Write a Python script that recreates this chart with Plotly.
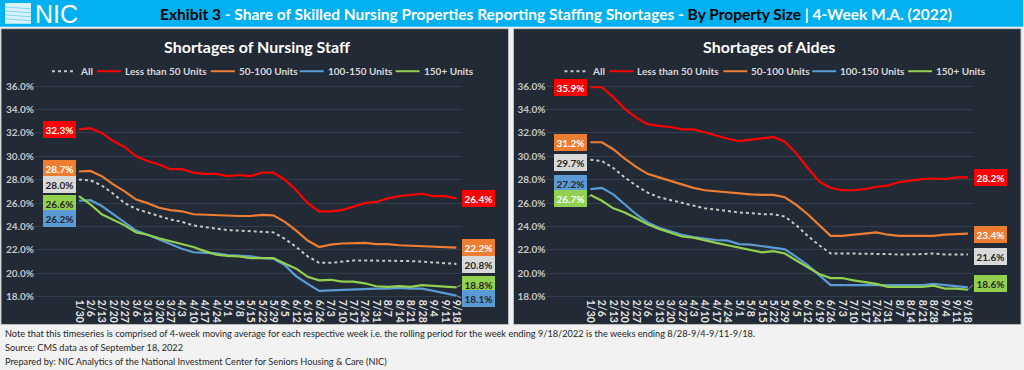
import plotly.graph_objects as go

W, H = 1024, 370
FONT = "Lato, sans-serif"


def px(x):
    return x / W


def py(y):
    return 1 - y / H


# ---------------- data ----------------
weeks = ["1/30", "2/6", "2/13", "2/20", "2/27", "3/6", "3/13", "3/20", "3/27", "4/3",
         "4/10", "4/17", "4/24", "5/1", "5/8", "5/15", "5/22", "5/29", "6/5", "6/12",
         "6/19", "6/26", "7/3", "7/10", "7/17", "7/24", "7/31", "8/7", "8/14", "8/21",
         "8/28", "9/4", "9/11", "9/18"]

series_names = ["All", "Less than 50 Units", "50-100 Units", "100-150 Units", "150+ Units"]

# Shortages of Nursing Staff (%)
nurse_all = [28.0, 27.95, 27.5, 26.8, 26.0, 25.5, 25.2, 24.9, 24.6, 24.4, 24.1, 23.95, 23.8,
             23.7, 23.65, 23.6, 23.55, 23.5, 22.95, 22.25, 21.45, 20.9, 20.9, 21.0, 21.1,
             21.1, 21.1, 21.05, 21.05, 21.05, 21.0, 20.95, 20.9, 20.8]
nurse_lt50 = [32.3, 32.4, 32.0, 31.3, 30.8, 30.0, 29.6, 29.3, 28.9, 28.9, 28.6, 28.5, 28.5,
              28.3, 28.4, 28.3, 28.6, 28.6, 28.0, 27.1, 26.0, 25.3, 25.3, 25.4, 25.7, 26.0,
              26.1, 26.4, 26.6, 26.7, 26.8, 26.6, 26.6, 26.4]
nurse_50_100 = [28.7, 28.75, 28.3, 27.6, 27.0, 26.3, 26.0, 25.6, 25.4, 25.3, 25.05, 25.0,
                24.95, 24.95, 24.9, 24.9, 25.0, 24.95, 24.4, 23.65, 22.8, 22.25, 22.45,
                22.55, 22.6, 22.6, 22.5, 22.5, 22.4, 22.35, 22.3, 22.25, 22.25, 22.2]
nurse_100_150 = [26.2, 26.25, 25.75, 25.05, 24.35, 23.65, 23.3, 22.9, 22.5, 22.1, 21.8, 21.75,
                 21.7, 21.55, 21.5, 21.45, 21.3, 21.25, 20.7, 19.75, 19.1, 18.5, 18.55, 18.6,
                 18.65, 18.7, 18.7, 18.7, 18.75, 18.7, 18.7, 18.5, 18.3, 18.1]
nurse_150 = [26.6, 25.9, 25.05, 24.6, 24.1, 23.5, 23.3, 23.0, 22.75, 22.5, 22.25, 21.9, 21.6,
             21.5, 21.45, 21.3, 21.3, 21.3, 20.85, 20.4, 19.7, 19.4, 19.45, 19.3, 19.3,
             19.15, 18.9, 18.85, 18.9, 18.85, 19.0, 18.95, 18.9, 18.8]

# Shortages of Aides (%)
aide_all = [29.7, 29.6, 29.0, 28.2, 27.5, 26.9, 26.5, 26.25, 26.0, 25.8, 25.55, 25.45, 25.3,
            25.2, 25.15, 25.05, 25.05, 24.85, 24.1, 23.2, 22.4, 21.7, 21.7, 21.7, 21.7, 21.7,
            21.65, 21.6, 21.6, 21.65, 21.7, 21.6, 21.6, 21.6]
aide_lt50 = [35.9, 35.9, 35.05, 34.05, 33.3, 32.75, 32.6, 32.5, 32.3, 32.3, 32.05, 31.75,
             31.5, 31.3, 31.4, 31.55, 31.65, 31.25, 30.25, 29.0, 27.85, 27.3, 27.1, 27.1,
             27.2, 27.4, 27.5, 27.8, 27.95, 28.05, 28.1, 28.05, 28.2, 28.2]
aide_50_100 = [31.2, 31.2, 30.6, 29.8, 29.1, 28.5, 28.2, 27.9, 27.55, 27.3, 27.1, 27.0, 26.9,
               26.85, 26.75, 26.7, 26.7, 26.5, 25.85, 25.05, 24.1, 23.2, 23.2, 23.3, 23.35,
               23.5, 23.3, 23.2, 23.2, 23.2, 23.2, 23.3, 23.35, 23.4]
aide_100_150 = [27.2, 27.3, 26.75, 25.9, 25.05, 24.35, 23.9, 23.6, 23.3, 23.1, 22.95, 22.85,
                22.8, 22.5, 22.45, 22.3, 22.2, 22.05, 21.4, 20.7, 19.85, 19.0, 19.0, 19.0,
                19.0, 19.0, 19.0, 18.95, 19.0, 19.0, 19.1, 19.0, 18.9, 18.8]
aide_150 = [26.7, 26.2, 25.55, 25.2, 24.7, 24.2, 23.8, 23.45, 23.15, 23.05, 22.8, 22.6, 22.4,
            22.2, 22.0, 21.8, 21.9, 21.7, 21.1, 20.55, 19.95, 19.6, 19.6, 19.4, 19.25, 19.1,
            18.85, 18.85, 18.85, 18.85, 18.95, 18.7, 18.7, 18.6]

y_ticks = [18, 20, 22, 24, 26, 28, 30, 32, 34, 36]

panel_titles = ["Shortages of Nursing Staff", "Shortages of Aides"]
footnotes = [
    "Note that this timeseries is comprised of 4-week moving average for each respective week i.e. "
    "the rolling period for the week ending 9/18/2022 is the weeks ending 8/28-9/4-9/11-9/18.",
    "Source: CMS data as of September 18, 2022",
    "Prepared by: NIC Analytics of the National Investment Center for Seniors Housing & Care (NIC)",
]

# ---------------- styles ----------------
line_colors = ["#C8C8C8", "#FF0000", "#ED7D31", "#5B9BD5", "#92D050"]
label_fill = ["#D9D9D9", "#FF0000", "#ED7D31", "#5B9BD5", "#92D050"]
dashes = ["dot", "solid", "solid", "solid", "solid"]
PANEL_BG = "#222A35"
GRID = "#323E4D"

panels = [
    dict(data=[nurse_all, nurse_lt50, nurse_50_100, nurse_100_150, nurse_150],
         xa="x", ya="y", left=35, right=462, first=79, offset=0),
    dict(data=[aide_all, aide_lt50, aide_50_100, aide_100_150, aide_150],
         xa="x2", ya="y2", left=547, right=974, first=591, offset=513),
]
STEP = 11.45  # px per week
PLOT_TOP, PLOT_BOT = 80, 302
Y_TOP = 36 + (87 - PLOT_TOP) / 11.85
Y_BOT = 18 - (PLOT_BOT - 300) / 11.85

# value labels: (series index, side, yshift px, text colour, leader line)
label_specs = [
    [(1, "start", 0, "white", False), (2, "start", 3, "white", False), (0, "start", -5, "#262626", False),
     (4, "start", -7, "#262626", False), (3, "start", -18, "#262626", False),
     (1, "end", 0, "white", False), (2, "end", 0, "white", False), (0, "end", -1, "#262626", False),
     (4, "end", 3, "#262626", True), (3, "end", -3, "#262626", True)],
    [(1, "start", 0, "white", False), (2, "start", 0, "white", False), (0, "start", -3, "#262626", False),
     (3, "start", 6, "#262626", False), (4, "start", -4, "white", True),
     (1, "end", 0, "white", False), (2, "end", -1, "white", False), (0, "end", -2, "#262626", False),
     (4, "end", 6, "#262626", True)],
]
legend_starts = [52, 97, 211, 300, 396]

fig = go.Figure()
shapes = []
annotations = []

# header band
shapes.append(dict(type="rect", xref="paper", yref="paper", x0=0, x1=1, y0=py(27), y1=1,
                   fillcolor="#00B0F0", line=dict(width=0), layer="below"))
# logo icon
shapes.append(dict(type="rect", xref="paper", yref="paper", x0=px(5), x1=px(31), y0=py(24), y1=py(3),
                   fillcolor="rgba(255,255,255,0.85)", line=dict(width=0), layer="below"))
for yy in [7, 11, 15, 19]:
    shapes.append(dict(type="line", xref="paper", yref="paper", x0=px(5), x1=px(31), y0=py(yy), y1=py(yy + 2),
                       line=dict(color="#7FD6F7", width=1), layer="below"))
annotations.append(dict(text="NIC", xref="paper", yref="paper", x=px(33), y=py(14), xanchor="left",
                        yanchor="middle", showarrow=False,
                        font=dict(family="Liberation Sans, Lato, sans-serif", size=25, color="white")))
annotations.append(dict(
    text="<b><span style='color:#000000'>Exhibit 3</span> - Share of Skilled Nursing Properties Reporting "
         "Staffing Shortages - <span style='color:#000000'>By Property Size</span> | 4-Week M.A. (2022)</b>",
    xref="paper", yref="paper", x=px(557), y=py(14), xanchor="center", yanchor="middle", showarrow=False,
    font=dict(family=FONT, size=15.5, color="white")))

for k, p in enumerate(panels):
    off = p["offset"]
    # panel background
    shapes.append(dict(type="rect", xref="paper", yref="paper", x0=px(1 + off), x1=px(509 + off),
                       y0=py(328), y1=py(29), fillcolor=PANEL_BG, line=dict(color="#BFBFBF", width=1),
                       layer="below"))
    annotations.append(dict(text="<b>" + panel_titles[k] + "</b>", xref="paper", yref="paper",
                            x=px(257 + off), y=py(47), xanchor="center", yanchor="middle", showarrow=False,
                            font=dict(family=FONT, size=16, color="white")))
    # traces
    for i, vals in enumerate(p["data"]):
        fig.add_trace(go.Scatter(x=weeks, y=vals, mode="lines", name=series_names[i], showlegend=False,
                                 line=dict(color=line_colors[i], width=2.2 if i else 2, dash=dashes[i]),
                                 xaxis=p["xa"], yaxis=p["ya"], hoverinfo="x+y+name"))
    # manual legend
    for i, s in enumerate(legend_starts):
        x0 = s + off
        shapes.append(dict(type="line", xref="paper", yref="paper", x0=px(x0), x1=px(x0 + 24),
                           y0=py(72), y1=py(72), line=dict(color=line_colors[i], width=2, dash=dashes[i])))
        annotations.append(dict(text="<b>" + series_names[i] + "</b>", xref="paper", yref="paper",
                                x=px(x0 + 26), y=py(72), xanchor="left", yanchor="middle", showarrow=False,
                                font=dict(family=FONT, size=10, color="#D9D9D9")))
    # value labels
    for (si, side, ys, tc, leader) in label_specs[k]:
        vals = p["data"][si]
        v = vals[0] if side == "start" else vals[-1]
        annotations.append(dict(
            text="<b>%.1f%%</b>" % v, xref=p["xa"], yref=p["ya"],
            x=0 if side == "start" else len(weeks) - 1, y=v,
            xanchor="right" if side == "start" else "left", yanchor="middle",
            xshift=-3 if side == "start" else 6, yshift=ys, showarrow=False,
            bgcolor=label_fill[si], bordercolor=label_fill[si], borderwidth=1, borderpad=1.5,
            font=dict(family=FONT, size=10, color=tc)))
        if leader:
            annotations.append(dict(
                text="", xref=p["xa"], yref=p["ya"], x=0 if side == "start" else len(weeks) - 1, y=v,
                showarrow=True, arrowhead=0, arrowwidth=1, arrowcolor="#A6A6A6",
                ax=-4 if side == "start" else 6, ay=-ys, standoff=0))

# footnotes
for j, t in enumerate(footnotes):
    annotations.append(dict(text=t, xref="paper", yref="paper", x=px(3), y=py(337 + 14 * j),
                            xanchor="left", yanchor="middle", showarrow=False,
                            font=dict(family=FONT, size=9.2, color="#262626")))


def xaxis(p):
    lo = (p["left"] - p["first"]) / STEP
    hi = (p["right"] - p["first"]) / STEP
    return dict(domain=[px(p["left"]), px(p["right"])], range=[lo, hi], type="category",
                tickmode="array", tickvals=weeks, ticktext=weeks,
                tickangle=90, showgrid=False, zeroline=False, showline=False, ticks="",
                tickfont=dict(family=FONT, size=10.5, color="#E6E6E6", weight="bold"),
                anchor=p["ya"])


def yaxis(p):
    return dict(domain=[py(PLOT_BOT), py(PLOT_TOP)], range=[Y_BOT, Y_TOP], tickvals=y_ticks,
                ticktext=["%.1f%%" % t for t in y_ticks], showgrid=True, gridcolor=GRID, gridwidth=1,
                zeroline=False, showline=False, ticks="",
                tickfont=dict(family=FONT, size=10, color="#C8C8C8", weight="bold"),
                anchor=p["xa"])


fig.update_layout(
    width=W, height=H, autosize=False,
    margin=dict(l=0, r=0, t=0, b=0),
    paper_bgcolor="#F2F2F2", plot_bgcolor="rgba(0,0,0,0)",
    showlegend=False,
    xaxis=xaxis(panels[0]), yaxis=yaxis(panels[0]),
    xaxis2=xaxis(panels[1]), yaxis2=yaxis(panels[1]),
    shapes=shapes, annotations=annotations,
    font=dict(family=FONT),
)

fig.write_html("out.html", config={"displayModeBar": False},
               post_script="document.body.style.margin='0';document.body.style.overflow='hidden';")
